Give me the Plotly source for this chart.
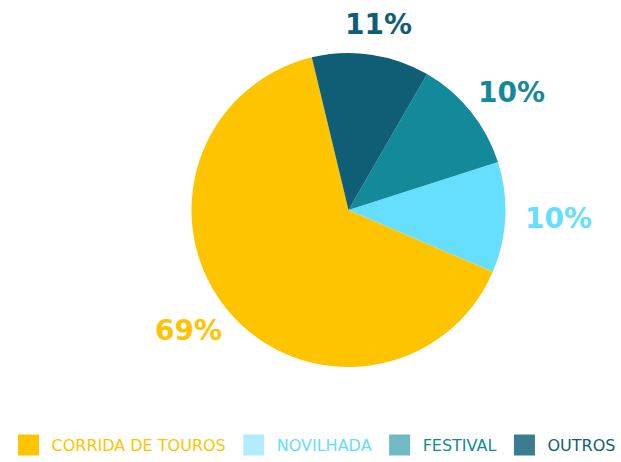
import math
import plotly.graph_objects as go

# ── data ──────────────────────────────────────────────────────────────────────
categories = ["CORRIDA DE TOUROS", "NOVILHADA", "FESTIVAL", "OUTROS"]
values = [64.8, 11.4, 11.7, 12.1]          # slice sizes as drawn
pct_labels = ["69%", "10%", "10%", "11%"]  # printed labels

# ── palette ───────────────────────────────────────────────────────────────────
slice_colors = ["#FFC400", "#66DFFF", "#128A9A", "#0F5E76"]
legend_swatch = ["#FFC400", "#B3ECFF", "#70BAC6", "#3D7C8F"]
legend_text = ["#FFC400", "#66DDFF", "#128A9A", "#0F5F78"]

FONT = "DejaVu Sans"
W, H = 621, 462
CX, CY, R = 348.5, 210, 157      # pie centre / radius in px
START = 113.2                    # edge where the first slice ends (clockwise from 12 o'clock)
GAP = 20                         # gap between pie edge and label box
TXT_W, TXT_H = 66, 21            # approx. label box size

dom_x = [(CX - R) / W, (CX + R) / W]
dom_y = [1 - (CY + R) / H, 1 - (CY - R) / H]

fig = go.Figure()
fig.add_trace(go.Pie(
    labels=categories,
    values=values,
    textinfo="none",
    marker=dict(colors=slice_colors, line=dict(width=0)),
    sort=False,
    direction="counterclockwise",
    rotation=START,
    showlegend=False,
    text=pct_labels,
    hoverinfo="label+text",
    domain=dict(x=dom_x, y=dom_y),
))

# percentage labels outside each slice, at its mid angle
total = sum(values)
edge = START + 360 * values[0] / total
for v, lab, col in zip(values, pct_labels, slice_colors):
    span = 360 * v / total
    mid = math.radians(edge - span / 2)
    edge -= span
    dx, dy = math.sin(mid), -math.cos(mid)
    px = CX + (R + GAP) * dx + dx * TXT_W / 2
    py = CY + (R + GAP) * dy + dy * TXT_H / 2
    fig.add_annotation(
        x=px / W, y=1 - py / H, xref="paper", yref="paper",
        text=f"<b>{lab}</b>", showarrow=False,
        xanchor="center", yanchor="middle",
        font=dict(family=FONT, size=28, color=col),
    )

# legend entries (swatches are lighter than the slices)
for name, sw, tc in zip(categories, legend_swatch, legend_text):
    fig.add_trace(go.Scatter(
        x=[None], y=[None], mode="markers",
        marker=dict(symbol="square", size=16, color=sw, line=dict(width=5, color=sw)),
        name=f"<span style='color:{tc}'>{name}</span>",
        showlegend=True,
    ))

fig.update_layout(
    width=W, height=H,
    paper_bgcolor="white", plot_bgcolor="white",
    margin=dict(l=0, r=0, t=0, b=0),
    font=dict(family=FONT, size=16),
    xaxis=dict(visible=False), yaxis=dict(visible=False),
    legend=dict(orientation="h", x=5.5 / W, y=0.0, xanchor="left", yanchor="bottom",
                font=dict(family=FONT, size=16), itemsizing="trace",
                itemwidth=36, tracegroupgap=0),
)

fig.write_html("out.html", config={"displayModeBar": False},
               post_script="document.body.style.margin='0';")
